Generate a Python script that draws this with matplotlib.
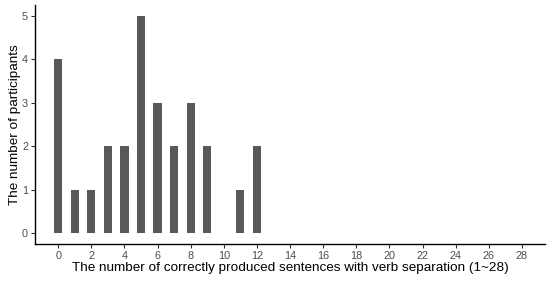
import numpy as np
import matplotlib
matplotlib.use("Agg")
import matplotlib.pyplot as plt

# nombre de phrases correctes -> nombre de participants
scores = [0, 1, 2, 3, 4, 5, 6, 7, 8, 9, 11, 12]
participants = [4, 1, 1, 2, 2, 5, 3, 2, 3, 2, 1, 2]
xticks = list(range(0, 29, 2))
yticks = [0, 1, 2, 3, 4, 5]

plt.rcParams['font.family'] = ['Liberation Sans', 'DejaVu Sans']

fig = plt.figure(figsize=(5.5, 2.81), dpi=100)
ax = fig.add_axes([0.0636, 0.1317, 0.9274, 0.8503])

ax.bar(scores, participants, width=0.5, color="#595959")

ax.set_xlim(-1.4, 29.4)
ax.set_ylim(-0.25, 5.25)
ax.set_xticks(xticks)
ax.set_yticks(yticks)

for s in ["top", "right"]:
    ax.spines[s].set_visible(False)
for s in ["left", "bottom"]:
    ax.spines[s].set_linewidth(1.0)
    ax.spines[s].set_color("black")

ax.tick_params(axis="both", labelsize=7.8, labelcolor="#4D4D4D", color="#333333",
               length=3, width=0.8, pad=2)

ax.set_xlabel("The number of correctly produced sentences with verb separation (1~28)",
              fontsize=9.7, labelpad=1)
ax.set_ylabel("The number of participants", fontsize=9.7, labelpad=1)

fig.savefig("out.png", dpi=100)
